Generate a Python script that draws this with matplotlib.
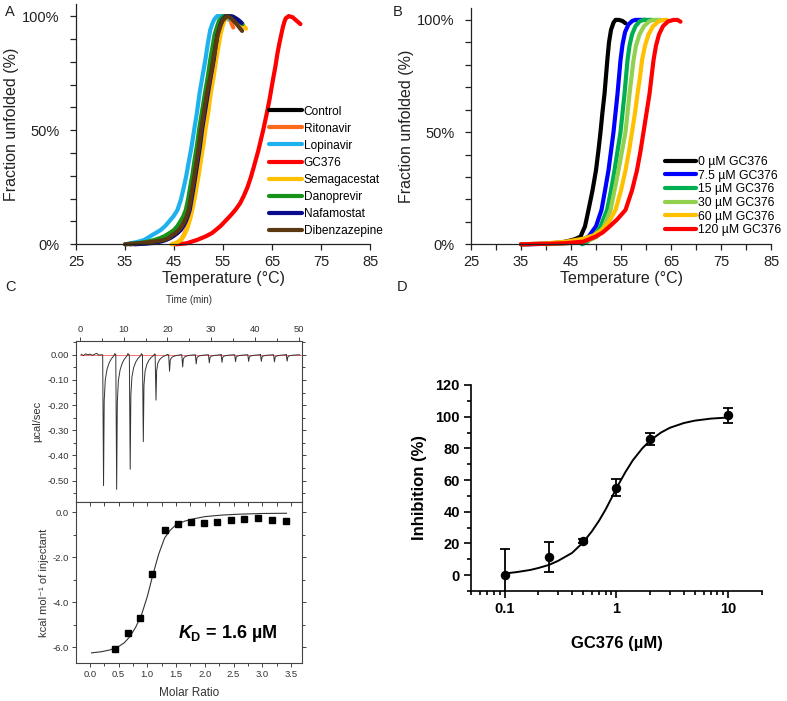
import matplotlib
matplotlib.use("Agg")
import matplotlib.pyplot as plt
from matplotlib.ticker import MultipleLocator, FixedLocator, LogLocator, NullFormatter, FuncFormatter

plt.rcParams['font.family'] = ['Liberation Sans', 'DejaVu Sans']
plt.rcParams['axes.unicode_minus'] = False
plt.rcParams['mathtext.fontset'] = 'custom'
plt.rcParams['mathtext.it'] = 'Liberation Sans:italic:bold'
plt.rcParams['mathtext.rm'] = 'Liberation Sans:bold'

# ---------------- panel A : melting curves, 8 compounds ----------------
control_t = [36, 38, 40, 41.5, 43, 44, 45, 45.7, 46.3, 46.8, 47.3, 47.7, 48.1, 48.5, 48.9, 49.3, 49.7,
             50.2, 50.6, 51.2, 51.8, 52.4, 53, 53.5, 53.9, 54.4, 54.8, 55.7, 56.7, 57.5]
control_f = [0, 0.3, 0.6, 1.1, 1.9, 2.8, 4, 5, 6.3, 8, 10, 12.3, 15, 20, 25, 30.5, 36, 43, 50, 58,
             66, 73.5, 80.8, 87, 92, 95.5, 98, 100, 99.5, 98]
ritonavir_t = [45, 45.5, 46, 46.5, 47, 47.5, 47.9, 48.3, 48.6, 49.1, 49.5, 49.9, 50.3, 50.8, 51.2,
               51.8, 52.3, 52.9, 53.4, 53.9, 54.3, 54.7, 55.1, 55.9, 56.4, 56.8, 57.1]
ritonavir_f = [0, 0.4, 1, 2.2, 4, 6.3, 9, 12, 15, 20, 25, 31, 37, 43.5, 50, 58, 66, 73.5, 80.8, 87,
               92, 95.5, 98, 100, 99, 96.5, 95]
lopinavir_t = [35, 36, 37, 38, 38.9, 39.7, 40.5, 41.4, 42.3, 43.2, 44, 44.9, 45.7, 46.4, 47, 47.5,
               48, 48.6, 49.1, 49.7, 50.2, 50.8, 51.4, 51.9, 52.4, 52.8, 53.2, 53.8, 55, 56]
lopinavir_f = [0, 0.4, 0.8, 1.3, 1.9, 2.9, 4, 5.1, 6.3, 8, 10, 12.3, 15, 19.5, 25, 30, 36, 43, 50,
               58, 66, 73.5, 80.8, 88, 94, 96.5, 98.5, 100, 100, 98.5]
gc376_t = [45.5, 47.5, 49.7, 51.5, 52.8, 54.5, 56.5, 57.5, 58.5, 59.3, 60, 60.7, 61.3, 62.2, 63.2,
           63.9, 64.5, 65.1, 65.7, 66.1, 66.5, 66.9, 67.2, 67.5, 67.8, 68.4, 69.2, 70, 70.8]
gc376_f = [0, 0.4, 1.9, 3.5, 5, 8, 12.5, 15, 18, 21.5, 25, 29.5, 34, 41, 50, 57, 63.5, 71, 78, 83.5,
           88, 92, 95, 97.3, 99, 100, 99.5, 98, 96.5]
semagacestat_t = [44.5, 45, 45.5, 46, 46.4, 46.9, 47.3, 47.7, 48, 48.4, 48.7, 49.2, 49.6, 50.1, 50.5,
                  51, 51.4, 52, 52.5, 53.1, 53.6, 54.1, 54.5, 54.9, 55.3, 56.1, 57.3, 58.5, 59.7]
semagacestat_f = [0, 0.3, 0.8, 1.3, 1.9, 3.3, 5, 7, 9, 12, 15, 20, 25, 31, 37, 43.5, 50, 58, 66,
                  73.5, 80.8, 87, 92, 95.5, 98, 100, 99.5, 97.5, 94.5]
danoprevir_t = [35, 36.5, 38, 39.5, 41, 42, 43, 44, 45, 45.7, 46.3, 46.9, 47.4, 47.9, 48.3, 48.8,
                49.2, 49.7, 50.1, 50.7, 51.3, 51.9, 52.4, 52.9, 53.3, 53.8, 54.2, 55.1, 56.5, 57.5,
                58.5, 59]
danoprevir_f = [0, 0.3, 0.6, 1.1, 1.9, 2.6, 3.5, 4.8, 6.3, 8, 10, 12.3, 15, 20, 25, 31, 37, 43.5,
                50, 58, 66, 73.5, 80.8, 87, 92, 95.5, 98, 100, 100, 99, 97.5, 96.5]
nafamostat_t = [37, 39, 41, 42.5, 43.5, 44.3, 45, 45.7, 46.4, 46.9, 47.4, 47.8, 48.2, 48.6, 49, 49.4,
                49.8, 50.3, 50.7, 51.3, 51.9, 52.5, 53.1, 53.5, 53.9, 54.4, 54.8, 55.6, 57, 58, 58.8]
nafamostat_f = [0, 0.3, 0.6, 1.3, 2, 2.8, 3.8, 5, 6.3, 8, 10, 12.3, 15, 20, 25, 30.5, 36, 43, 50,
                58, 66, 73.5, 80.8, 87, 92, 95.5, 98, 100, 99.8, 98.5, 97]
dibenz_t = [35, 38, 41, 43, 44, 44.5, 45.3, 46, 46.6, 47.1, 47.6, 48, 48.4, 48.8, 49.2, 49.6, 50.1,
            50.5, 51.1, 51.7, 52.4, 53, 53.5, 53.9, 54.4, 54.9, 55.8, 56.7, 57.8, 58.9]
dibenz_f = [0, 0.5, 1.2, 1.9, 2.8, 3.8, 5, 6.3, 8, 10, 12.3, 15, 20, 25, 30.5, 36, 43, 50, 58, 66,
            73.5, 80.8, 87, 92, 95.5, 98, 100, 99, 96.5, 93.5]

a_names = ["Control", "Ritonavir", "Lopinavir", "GC376", "Semagacestat", "Danoprevir",
           "Nafamostat", "Dibenzazepine"]
a_colors = ["#000000", "#FF6A1A", "#1DB2EE", "#FF0000", "#FFC000", "#17931A", "#0A0A8C", "#5C3810"]

# ---------------- panel B : GC376 dose series ----------------
b0_t = [35, 40, 43, 44.5, 45.8, 46.9, 47.8, 48.5, 49.3, 50.0, 50.5, 50.9, 51.3, 51.7, 52.0, 52.3,
        52.6, 53.0, 53.5, 53.9, 54.6, 55.3, 55.9]
b0_f = [0, 0.3, 0.8, 1.5, 2.3, 3.4, 8, 15.3, 24, 33, 42, 50, 59, 67, 75, 83, 90, 95.5, 98.8, 100,
        100, 99.5, 98.5]
b75_t = [35, 42, 45, 46.8, 48.5, 50, 51.1, 51.8, 52.5, 53.0, 53.5, 53.9, 54.3, 54.6, 54.9, 55.3,
         55.8, 56.5, 57.3, 57.9, 59.9]
b75_f = [0, 0.3, 0.8, 1.5, 3.4, 8, 15.3, 24, 33, 41.5, 50, 58.5, 67, 74.5, 82, 89, 94.5, 98, 99.6,
         100, 100]
b15_t = [47.2, 48.3, 49.5, 50.9, 52.2, 53.0, 53.7, 54.3, 54.9, 55.3, 55.7, 56.0, 56.3, 56.7, 57.2,
         57.9, 58.7, 59.5, 61.2]
b15_f = [0, 1.2, 3.4, 8, 15.3, 24, 33, 41.5, 50, 58.5, 67, 74.5, 82, 88.5, 93.5, 97.2, 99.3, 100, 100]
b30_t = [40, 45, 48, 49.3, 50.2, 51.6, 52.9, 53.7, 54.5, 55.2, 55.9, 56.3, 56.7, 57.1, 57.5, 58.0,
         58.7, 59.6, 60.6, 61.5, 62.9]
b30_f = [0, 0.5, 1.5, 2.4, 3.4, 8, 15.3, 24, 33, 41.5, 50, 58.5, 67, 74.5, 82, 88.5, 93.5, 97.2,
         99.3, 100, 100]
b60_t = [35, 40, 44, 47.5, 49.5, 51.2, 52.6, 53.9, 55.0, 55.9, 56.6, 57.2, 57.8, 58.3, 58.8, 59.2,
         59.8, 60.5, 61.4, 62.5, 63.5, 64.2]
b60_f = [0, 0.4, 1.2, 2.5, 4, 6.5, 10, 15.3, 24, 33, 41.5, 50, 58.5, 67, 74.5, 82, 88.5, 93.5, 97.2,
         99.3, 100, 100]
b120_t = [35, 40, 44, 47.5, 49.9, 51.3, 52.5, 54.2, 55.9, 57.2, 58.2, 58.9, 59.5, 60.1, 60.7, 61.1,
          61.5, 62.0, 62.6, 63.4, 64.4, 65.5, 66.3, 66.9]
b120_f = [0, 0.2, 0.5, 1.2, 3.4, 5.2, 7.5, 11, 15.3, 24, 33, 41.5, 50, 58.5, 67, 74.5, 82, 88.5,
          93.5, 97.2, 99.3, 100, 100, 99.2]

b_names = ["0 µM GC376", "7.5 µM GC376", "15 µM GC376", "30 µM GC376", "60 µM GC376", "120 µM GC376"]
b_colors = ["#000000", "#0000FF", "#00B050", "#92D050", "#FFC000", "#FF0000"]

# ---------------- panel C : ITC ----------------
pre_t = [0.3, 0.8, 1.3, 1.8, 2.3, 2.8, 3.3, 3.8, 4.3, 4.8]
pre_y = [0.002, -0.003, 0.004, 0.0, 0.003, -0.002, 0.002, 0.006, -0.001, 0.0]
inj_time = [5.2, 8.2, 11.3, 14.3, 17.2, 20.3, 23.3, 26.4, 29.4, 32.3, 35.4, 38.4, 41.3, 44.3, 47.2]
inj_depth = [-0.52, -0.535, -0.455, -0.345, -0.18, -0.065, -0.048, -0.036, -0.032, -0.03,
             -0.027, -0.026, -0.026, -0.028, -0.025]
# shape of one injection peak (minutes after injection, fraction of the depth)
shape_t = [0, 0.2, 0.35, 0.6, 1.0, 1.5, 2.0, 2.5, 2.8, 2.95]
shape_f = [0, 1, 0.35, 0.19, 0.11, 0.06, 0.03, 0.01, -0.01, 0]

molar_ratio = [0.44, 0.66, 0.87, 1.09, 1.31, 1.54, 1.76, 1.99, 2.22, 2.45, 2.69, 2.92, 3.17, 3.41]
heat = [-6.09, -5.36, -4.68, -2.73, -0.79, -0.53, -0.46, -0.49, -0.45, -0.34, -0.30, -0.27, -0.37, -0.39]
fit_ratio = [0.03, 0.2, 0.35, 0.5, 0.6, 0.7, 0.8, 0.9, 1.0, 1.1, 1.2, 1.3, 1.4, 1.5, 1.65, 1.8, 2.0,
             2.3, 2.6, 3.0, 3.42]
fit_heat = [-6.25, -6.2, -6.12, -5.97, -5.8, -5.52, -5.1, -4.55, -3.75, -2.75, -1.85, -1.15, -0.8,
            -0.56, -0.4, -0.3, -0.2, -0.13, -0.09, -0.06, -0.05]

# ---------------- panel D : dose response ----------------
conc = [0.1, 0.25, 0.5, 1, 2, 10]
inhib = [0, 11.6, 21.3, 55.2, 85.9, 100.8]
inhib_err = [16.2, 9.6, 1.2, 5.4, 3.5, 4.7]
curve_x = [0.1, 0.13, 0.17, 0.2, 0.25, 0.3, 0.4, 0.5, 0.6, 0.7, 0.8, 0.9, 1.0, 1.2, 1.4, 1.7, 2.0,
           2.5, 3.0, 4.0, 5.0, 7.0, 10.0]
curve_y = [1, 2, 3.3, 4.5, 6.5, 9, 14, 20.5, 27.5, 34.5, 41.5, 48.5, 55, 65, 72.5, 80, 85, 90, 93,
           96, 97.5, 98.8, 99.5]

W, H = 787, 701
fig = plt.figure(figsize=(W / 100, H / 100), dpi=100)


def box(x0, y0, x1, y1):
    # pixel box (top-left origin) -> figure fraction rect
    return [x0 / W, 1 - y1 / H, (x1 - x0) / W, (y1 - y0) / H]


pct = FuncFormatter(lambda v, p: f"{v:.0f}%")


def melt_axes(ax, minor_x):
    for s in ["top", "right"]:
        ax.spines[s].set_visible(False)
    for s in ["left", "bottom"]:
        ax.spines[s].set_linewidth(0.9)
        ax.spines[s].set_color("#222222")
    ax.set_xlim(25, 85)
    ax.set_ylim(0, 105.3)
    ax.set_xticks(range(25, 86, 10))
    if minor_x:
        ax.xaxis.set_minor_locator(MultipleLocator(5))
    ax.set_yticks([0, 50, 100])
    ax.yaxis.set_minor_locator(FixedLocator(range(0, 101, 10)))
    ax.yaxis.set_major_formatter(pct)
    ax.tick_params(which="both", direction="out", color="#222222", width=0.9)
    ax.tick_params(which="major", length=4, labelsize=10.5, labelcolor="#222222")
    ax.tick_params(which="minor", length=4)
    ax.tick_params(axis="y", pad=8)
    ax.tick_params(axis="x", pad=4)
    ax.set_xlabel("Temperature (°C)", fontsize=11.5, color="#222222", labelpad=1)
    ax.set_ylabel("Fraction unfolded (%)", fontsize=11.5, color="#222222", labelpad=2)


# panel A
axA = fig.add_axes(box(76, 4, 370, 244.3))
a_series = [(control_t, control_f), (ritonavir_t, ritonavir_f), (lopinavir_t, lopinavir_f),
            (gc376_t, gc376_f), (semagacestat_t, semagacestat_f), (danoprevir_t, danoprevir_f),
            (nafamostat_t, nafamostat_f), (dibenz_t, dibenz_f)]
for (t, f), name, c in zip(a_series, a_names, a_colors):
    axA.plot(t, f, color=c, lw=3, label=name, solid_capstyle="round", solid_joinstyle="round",
             clip_on=False)
melt_axes(axA, False)
axA.legend(loc="upper left", bbox_to_anchor=(0.655, 0.577), frameon=False, fontsize=8.6,
           handlelength=2.8, handletextpad=0.15, labelspacing=0.42, borderpad=0, borderaxespad=0)

# panel B
axB = fig.add_axes(box(471, 8, 771, 244.3))
b_series = [(b0_t, b0_f), (b75_t, b75_f), (b15_t, b15_f), (b30_t, b30_f), (b60_t, b60_f),
            (b120_t, b120_f)]
for (t, f), name, c in zip(b_series, b_names, b_colors):
    axB.plot(t, f, color=c, lw=3, label=name, solid_capstyle="round", solid_joinstyle="round",
             clip_on=False)
melt_axes(axB, True)
axB.legend(loc="upper left", bbox_to_anchor=(0.645, 0.373), frameon=False, fontsize=8.8,
           handlelength=2.6, handletextpad=0.15, labelspacing=0.13, borderpad=0, borderaxespad=0)

# panel C top: raw thermogram
itc_col = "#444444"
axC1 = fig.add_axes(box(76, 341, 302, 502))
trace_t = list(pre_t)
trace_y = list(pre_y)
for t0, d in zip(inj_time, inj_depth):
    trace_t += [t0 + s for s in shape_t]
    trace_y += [d * s for s in shape_f]
trace_t.append(50.3)
trace_y.append(0.0)
axC1.plot([0, 50.5], [0, 0], color="#FF7070", lw=0.7)
axC1.plot(trace_t, trace_y, color="#333333", lw=0.7)
axC1.set_xlim(-0.9, 50.8)
axC1.set_ylim(-0.585, 0.055)
axC1.xaxis.set_major_locator(MultipleLocator(10))
axC1.xaxis.set_minor_locator(MultipleLocator(5))
axC1.yaxis.set_major_locator(MultipleLocator(0.1))
axC1.yaxis.set_minor_locator(MultipleLocator(0.05))
axC1.yaxis.set_major_formatter(FuncFormatter(lambda v, p: f"{v:.2f}" if abs(v) > 1e-9 else "0.00"))
axC1.tick_params(which="both", top=True, labeltop=True, bottom=False, labelbottom=False,
                 right=True, direction="out", color=itc_col, width=0.7)
axC1.tick_params(which="major", length=3, labelsize=6.8, labelcolor="#333333", pad=2)
axC1.tick_params(which="minor", length=2)
axC1.xaxis.set_label_position("top")
axC1.set_xlabel("Time (min)", fontsize=7, color="#333333", labelpad=16)
axC1.set_ylabel("µcal/sec", fontsize=8, color="#333333", labelpad=4)
for s in axC1.spines.values():
    s.set_color(itc_col)
    s.set_linewidth(0.8)

# panel C bottom: integrated heats
axC2 = fig.add_axes(box(76, 502, 302, 663))
axC2.plot(fit_ratio, fit_heat, color="#333333", lw=0.8)
axC2.plot(molar_ratio, heat, "s", color="black", ms=4.5)
axC2.set_xlim(-0.24, 3.69)
axC2.set_ylim(-6.7, 0.45)
axC2.xaxis.set_major_locator(MultipleLocator(0.5))
axC2.xaxis.set_minor_locator(MultipleLocator(0.25))
axC2.yaxis.set_major_locator(MultipleLocator(2))
axC2.yaxis.set_minor_locator(MultipleLocator(1))
axC2.xaxis.set_major_formatter(FuncFormatter(lambda v, p: f"{v:.1f}"))
axC2.yaxis.set_major_formatter(FuncFormatter(lambda v, p: f"{v:.1f}" if abs(v) > 1e-9 else "0.0"))
axC2.tick_params(which="both", right=True, direction="out", color=itc_col, width=0.7)
axC2.tick_params(which="major", length=3, labelsize=6.8, labelcolor="#333333", pad=2)
axC2.tick_params(which="minor", length=2)
sec = axC2.secondary_xaxis("top")
sec.xaxis.set_major_locator(MultipleLocator(0.25))
sec.tick_params(direction="in", length=3, color=itc_col, width=0.7, labeltop=False)
sec.spines["top"].set_visible(False)
axC2.set_xlabel("Molar Ratio", fontsize=8.5, color="#333333", labelpad=6)
axC2.set_ylabel("kcal mol⁻¹ of injectant", fontsize=8, color="#333333", labelpad=3)
for s in axC2.spines.values():
    s.set_color(itc_col)
    s.set_linewidth(0.8)
axC2.text(0.67, 0.186, r"$K_\mathrm{D}$ = 1.6 µM", transform=axC2.transAxes, fontsize=13,
          fontweight="bold", ha="center", va="center")

# panel D
axD = fig.add_axes(box(471, 385, 762, 591))
axD.errorbar(conc, inhib, yerr=inhib_err, fmt="none", ecolor="black", elinewidth=1.3,
             capsize=3.5, capthick=1.3)
axD.plot(curve_x, curve_y, color="black", lw=1.4)
axD.plot(conc, inhib, "o", color="black", ms=5.8)
axD.set_xscale("log")
axD.set_xlim(0.05, 20)
axD.set_ylim(-10, 120)
axD.xaxis.set_major_locator(FixedLocator([0.1, 1, 10]))
axD.xaxis.set_minor_locator(LogLocator(base=10, subs=range(2, 10)))
axD.xaxis.set_minor_formatter(NullFormatter())
axD.set_xticklabels(["0.1", "1", "10"])
axD.yaxis.set_major_locator(FixedLocator(range(0, 121, 20)))
axD.yaxis.set_minor_locator(FixedLocator(range(-10, 121, 10)))
for s in ["top", "right"]:
    axD.spines[s].set_visible(False)
for s in ["left", "bottom"]:
    axD.spines[s].set_linewidth(1.2)
axD.tick_params(which="both", direction="out", width=1.2)
axD.tick_params(which="major", length=5, labelsize=10.5, pad=3)
axD.tick_params(which="minor", length=3)
for lab in axD.get_xticklabels() + axD.get_yticklabels():
    lab.set_fontweight("bold")
axD.set_xlabel("GC376 (µM)", fontsize=12, fontweight="bold", labelpad=14)
axD.set_ylabel("Inhibition (%)", fontsize=12, fontweight="bold", labelpad=6)

# panel letters
for letter, x, y in [("A", 10, 12), ("B", 398, 12), ("C", 10, 287), ("D", 402, 287)]:
    fig.text(x / W, 1 - y / H, letter, fontsize=10.5, color="#222222", ha="center", va="center")

fig.savefig("out.png", dpi=100)
